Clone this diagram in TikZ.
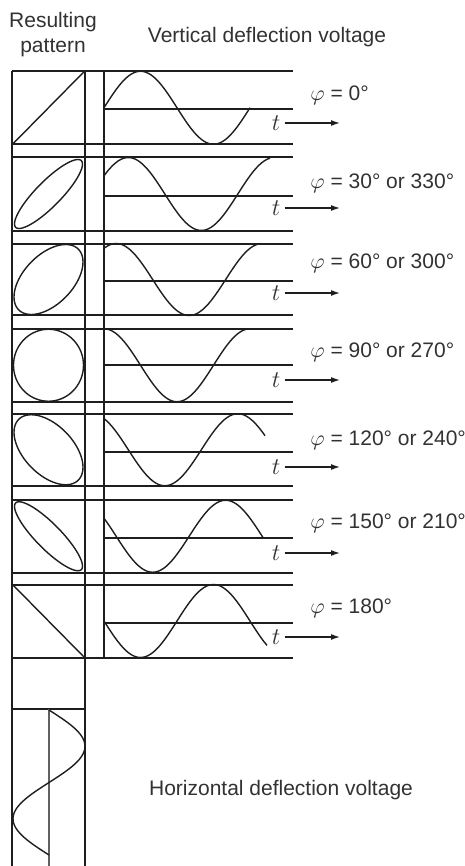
\documentclass[tikz,border=0pt]{standalone}
\usepackage{fontspec}
\setmainfont{Liberation Sans}
\usetikzlibrary{arrows.meta}
\definecolor{lineGray}{RGB}{30,30,30}
\definecolor{textGray}{RGB}{50,50,50}
\tikzset{
	frame/.style={draw=lineGray, line width=1pt},
	wave/.style={draw=lineGray, line width=0.7pt},
	patt/.style={draw=lineGray, line width=0.7pt},
	lbl/.style={font=\fontsize{10.5}{12.5}\selectfont, text=textGray, inner sep=0pt},
	tlbl/.style={font=\fontsize{11.5}{12}\selectfont, text=textGray, inner sep=2pt},
	tarr/.style={-{Latex[length=4.5pt,width=3pt]}, draw=lineGray, line width=0.7pt}
}

\begin{document}
\begin{tikzpicture}[x=0.5pt, y=-0.5pt]
	\useasboundingbox (0,0) rectangle (465,866);
	% headings
	\node[lbl, align=center] (res) at (53,35) {Resulting\\pattern};
	\node[lbl] (vdv) at (267,37) {Vertical deflection voltage};
	\node[lbl] (hdv) at (281,790) {Horizontal deflection voltage};
	% columns
	\draw[frame] (12,71) -- (12,866) (85,71) -- (85,866) (104,71) -- (104,657.5);
	\draw[frame] (12,709) -- (85,709);
	\draw[draw=lineGray!70, line width=0.6pt] (49,709) -- (49,866);
	\draw[wave] plot[domain=710:855, samples=60] ({49+36*sin((\x-710)/145*360)}, \x);
	% phi = 0
	\draw[frame] (12,71) -- (293,71) (104,109) -- (293,109) (12,144.5) -- (293,144.5);
	\draw[patt] plot[domain=0:360, samples=73] ({48.5+35.5*sin(\x)}, {107.75-36*sin(\x)});
	\draw[wave] plot[domain=104:250, samples=60] (\x, {107.75-36.5*sin((\x-104)/146*360)});
	\node[lbl, anchor=west] (p1) at (310,95) {$\varphi$ = 0°};
	\node[tlbl] (t1) at (276,123) {$t$};
	\coordinate (e1) at (340,123);
	\draw[tarr] (t1) -- (e1);
	% phi = 30
	\draw[frame] (12,157.5) -- (293,157.5) (104,196) -- (293,196) (12,230.5) -- (293,230.5);
	\draw[patt] plot[domain=0:360, samples=73] ({48.5+34*sin(\x)}, {194-34.5*sin(\x+30)});
	\draw[wave] plot[domain=104:270, samples=60] (\x, {194-36.5*sin((\x-104)/146*360+30)});
	\node[lbl, anchor=west] (p2) at (310,183) {$\varphi$ = 30° or 330°};
	\node[tlbl] (t2) at (276,208) {$t$};
	\coordinate (e2) at (340,208);
	\draw[tarr] (t2) -- (e2);
	% phi = 60
	\draw[frame] (12,244) -- (293,244) (104,281) -- (293,281) (12,315) -- (293,315);
	\draw[patt] plot[domain=0:360, samples=73] ({48.5+34.5*sin(\x)}, {279.5-35*sin(\x+60)});
	\draw[wave] plot[domain=104:258, samples=60] (\x, {279.5-36*sin((\x-104)/146*360+60)});
	\node[lbl, anchor=west] (p3) at (310,263) {$\varphi$ = 60° or 300°};
	\node[tlbl] (t3) at (276,293) {$t$};
	\coordinate (e3) at (340,293);
	\draw[tarr] (t3) -- (e3);
	% phi = 90
	\draw[frame] (12,329) -- (293,329) (104,365) -- (293,365) (12,401.5) -- (293,401.5);
	\draw[patt] plot[domain=0:360, samples=73] ({48.5+35*sin(\x)}, {365.25-36*sin(\x+90)});
	\draw[wave] plot[domain=104:247, samples=60] (\x, {365.25-36.5*sin((\x-104)/146*360+90)});
	\node[lbl, anchor=west] (p4) at (310,352) {$\varphi$ = 90° or 270°};
	\node[tlbl] (t4) at (276,380) {$t$};
	\coordinate (e4) at (340,380);
	\draw[tarr] (t4) -- (e4);
	% phi = 120
	\draw[frame] (12,413.5) -- (293,413.5) (104,451.5) -- (293,451.5) (12,486) -- (293,486);
	\draw[patt] plot[domain=0:360, samples=73] ({48.5+34.5*sin(\x)}, {449.75-35*sin(\x+120)});
	\draw[wave] plot[domain=104:265, samples=60] (\x, {449.75-36*sin((\x-104)/146*360+120)});
	\node[lbl, anchor=west] (p5) at (310,440) {$\varphi$ = 120° or 240°};
	\node[tlbl] (t5) at (276,467) {$t$};
	\coordinate (e5) at (340,467);
	\draw[tarr] (t5) -- (e5);
	% phi = 150
	\draw[frame] (12,500) -- (293,500) (104,537.5) -- (293,537.5) (12,572.5) -- (293,572.5);
	\draw[patt] plot[domain=0:360, samples=73] ({48.5+34*sin(\x)}, {536.25-34.5*sin(\x+150)});
	\draw[wave] plot[domain=104:263, samples=60] (\x, {536.25-36*sin((\x-104)/146*360+150)});
	\node[lbl, anchor=west] (p6) at (310,523) {$\varphi$ = 150° or 210°};
	\node[tlbl] (t6) at (276,553) {$t$};
	\coordinate (e6) at (340,553);
	\draw[tarr] (t6) -- (e6);
	% phi = 180
	\draw[frame] (12,584.5) -- (293,584.5) (104,623) -- (293,623) (12,657.5) -- (293,657.5);
	\draw[patt] plot[domain=0:360, samples=73] ({48.5+35.5*sin(\x)}, {621-36*sin(\x+180)});
	\draw[wave] plot[domain=104:267, samples=60] (\x, {621-36.5*sin((\x-104)/146*360+180)});
	\node[lbl, anchor=west] (p7) at (310,608) {$\varphi$ = 180°};
	\node[tlbl] (t7) at (276,637) {$t$};
	\coordinate (e7) at (340,637);
	\draw[tarr] (t7) -- (e7);
\end{tikzpicture}
\end{document}
